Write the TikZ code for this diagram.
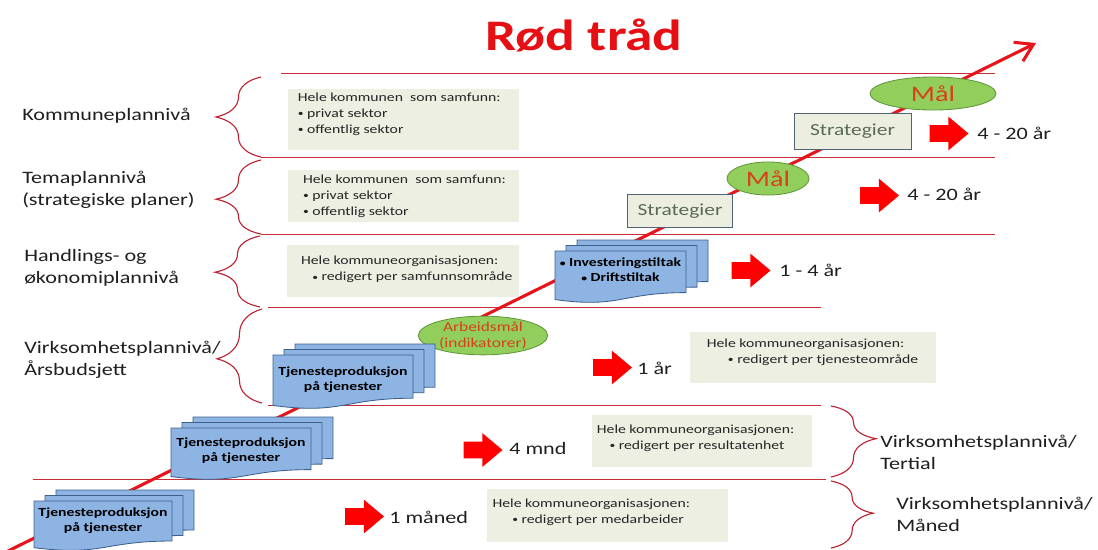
\documentclass[tikz,border=0pt]{standalone}
\usepackage{fontspec}
\setmainfont{Carlito}[FakeStretch=1.27]
\usetikzlibrary{positioning,shapes.geometric,shapes.arrows,decorations.pathreplacing,arrows.meta}

\definecolor{rulered}{RGB}{200,45,55}
\definecolor{bracered}{RGB}{185,35,50}
\definecolor{threadred}{RGB}{232,20,27}
\definecolor{titlered}{RGB}{230,15,20}
\definecolor{goalgreen}{RGB}{146,206,92}
\definecolor{goalborder}{RGB}{98,150,60}
\definecolor{goaltext}{RGB}{215,65,25}
\definecolor{stratfill}{RGB}{236,239,224}
\definecolor{stratborder}{RGB}{80,100,120}
\definecolor{strattext}{RGB}{90,105,85}
\definecolor{infofill}{RGB}{236,239,225}
\definecolor{sheetfill}{RGB}{142,180,227}
\definecolor{sheetborder}{RGB}{60,95,140}

% one sheet of a document stack: top left x, y, width, height
\newcommand{\docsheet}[4]{%
  \draw[sheet] (#1,#2) -- (#1+#3,#2) -- (#1+#3,#2+0.8*#4)
    .. controls (#1+0.5*#3,#2+0.8*#4) and (#1+0.5*#3,#2+1.107*#4) .. (#1,#2+0.934*#4) -- cycle;}
\newcommand{\bul}{{\fontsize{6.5}{6.5}\selectfont\raisebox{0.4pt}{•}}}

\begin{document}
\begin{tikzpicture}[x=0.025cm,y=-0.025cm]

\tikzstyle{hline}=[rulered,line width=0.7pt]
\tikzstyle{curly}=[bracered,line width=0.8pt,decorate]
\tikzstyle{lvl}=[anchor=west,align=left,inner sep=0pt,font=\fontsize{12.4}{15.5}\selectfont,text=black!88]
\tikzstyle{period}=[anchor=west,inner sep=0pt,font=\fontsize{12.4}{15}\selectfont,text=black!88]
\tikzstyle{infobox}=[rectangle,fill=infofill,inner sep=0pt]
\tikzstyle{info}=[anchor=west,align=left,inner sep=0pt,font=\fontsize{8.8}{11.3}\selectfont,text=black!85]
\tikzstyle{goal}=[ellipse,fill=goalgreen,draw=goalborder,line width=0.6pt,text=goaltext,inner sep=-6pt]
\tikzstyle{strat}=[rectangle,fill=stratfill,draw=stratborder,line width=0.7pt,text=strattext,font=\fontsize{12}{14}\selectfont]
\tikzstyle{sheet}=[fill=sheetfill,draw=sheetborder,line width=0.6pt]
\tikzstyle{sheettext}=[align=center,inner sep=0pt,font=\fontsize{8.8}{10.7}\selectfont\bfseries]
\tikzstyle{bigarrow}=[single arrow,fill=red,inner xsep=0pt,inner ysep=5.8pt,minimum height=27.7pt,minimum width=23.5pt,single arrow head extend=6pt,single arrow tip angle=80]

\useasboundingbox (0,0) rectangle (1098,549);

\node[text=titlered,font=\fontsize{31}{36}\selectfont\bfseries] (title) at (584,35) {Rød tråd};

% level lines
\draw[hline] (281,73) -- (995,73);
\draw[hline] (261,157) -- (995,157);
\draw[hline] (261,234) -- (995,234);
\draw[hline] (268,307) -- (821,307);
\draw[hline] (268,405) -- (821,405);
\draw[hline] (33,479) -- (826,479);

% braces
\draw[curly,decoration={brace,amplitude=32pt,aspect=0.5}] (261,157) -- (261,77);
\draw[curly,decoration={brace,amplitude=32pt,aspect=0.47}] (261,234) -- (261,160);
\draw[curly,decoration={brace,amplitude=32pt,aspect=0.49}] (260,307) -- (260,236);
\draw[curly,decoration={brace,amplitude=32pt,aspect=0.47}] (262,403) -- (262,309);
\draw[curly,decoration={brace,amplitude=32pt,aspect=0.46}] (831,406) -- (831,477);
\draw[curly,decoration={brace,amplitude=30pt,aspect=0.48}] (831,481) -- (831,548);

% the red thread
\coordinate (tstart) at (6,552);
\coordinate (tend) at (1036,43);
\draw[threadred,line width=2.2pt,-{Straight Barb[length=12pt,width=15pt]}] (tstart) -- (tend);

\node[lvl] (kommune)  at (22,116) {Kommuneplannivå};
\node[lvl] (tema)     at (22,190) {Temaplannivå\\(strategiske planer)};
\node[lvl] (handling) at (24,268) {Handlings- og\\økonomiplannivå};
\node[lvl] (virk)     at (24,360) {Virksomhetsplannivå/\\Årsbudsjett};
\node[lvl] (tertial)  at (880,452) {Virksomhetsplannivå/\\Tertial};
\node[lvl] (maned)    at (896,514) {Virksomhetsplannivå/\\Måned};

\node[infobox,minimum width=164.3pt,minimum height=43.4pt] (box1) at (403.5,119.5) {};
\node[infobox,minimum width=164.3pt,minimum height=37pt]   (box2) at (403.5,196) {};
\node[infobox,minimum width=165pt,minimum height=37pt]     (box3) at (403,271) {};
\node[infobox,minimum width=175pt,minimum height=36.3pt]   (box4) at (813,357.5) {};
\node[infobox,minimum width=156.5pt,minimum height=37pt]   (box5) at (702,441) {};
\node[infobox,minimum width=171.4pt,minimum height=37.7pt] (box6) at (607.5,515.5) {};

\node[info,right=7pt of box1.west,yshift=4pt] (info1) {Hele kommunen~ som samfunn:\\\bul{} privat sektor\\\bul{} offentlig sektor};
\node[info,right=10.7pt of box2.west] (info2) {Hele kommunen~ som samfunn:\\\bul{} privat sektor\\\bul{} offentlig sektor};
\node[info,right=10pt of box3.west,yshift=1pt] (info3) {Hele kommuneorganisasjonen:\\\hspace*{8pt}\bul{} redigert per samfunnsområde};
\node[info,right=12pt of box4.west,yshift=4pt] (info4) {Hele kommuneorganisasjonen:\\\hspace*{15pt}\bul{} redigert per tjenesteområde};
\node[info,right=3.5pt of box5.west,yshift=2pt] (info5) {Hele kommuneorganisasjonen:\\\hspace*{9pt}\bul{} redigert per resultatenhet};
\node[info,right=4pt of box6.west,yshift=2.5pt] (info6) {Hele kommuneorganisasjonen:\\\hspace*{14pt}\bul{} redigert per medarbeider};

\node[goal,minimum width=89.6pt,minimum height=23.5pt,font=\fontsize{15.8}{18}\selectfont] (mal1) at (933,93.5) {Mål};
\node[strat,minimum width=83.2pt,minimum height=25.6pt] (strat1) at (852.5,131) {Strategier};
\node[goal,minimum width=58.3pt,minimum height=23.5pt,font=\fontsize{15.8}{18}\selectfont] (mal2) at (768,178.5) {Mål};
\node[strat,minimum width=74pt,minimum height=22.8pt] (strat2) at (680,211) {Strategier};
\node[goal,minimum width=92pt,minimum height=27.5pt,align=center,font=\fontsize{9.7}{11}\selectfont] (arbeid) at (483,335.5) {Arbeidsmål\\(indikatorer)};

% document stacks
\foreach \d in {22,11,0} \docsheet{555+\d}{251-\d/2}{131}{52};
\node[sheettext] (invest) at (620.5,270) {\bul{} Investeringstiltak\\\bul{} Driftstiltak};
\foreach \d in {22,11,0} \docsheet{273+\d}{355-\d/2}{140}{54};
\node[sheettext] (tjen1) at (343,379.5) {Tjenesteproduksjon\\på tjenester};
\foreach \d in {22,11,0} \docsheet{171+\d}{428-\d/2}{140}{52};
\node[sheettext] (tjen2) at (241,450.5) {Tjenesteproduksjon\\på tjenester};
\foreach \d in {22,11,0} \docsheet{34+\d}{501-\d/2}{138}{50};
\node[sheettext] (tjen3) at (103,520.5) {Tjenesteproduksjon\\på tjenester};

% time spans
\node[bigarrow] (arr1) at (944,133.5) {};
\node[period] (span1) at (977,133) {4 - 20 år};
\node[bigarrow] (arr2) at (874.5,195.5) {};
\node[period] (span2) at (907,194) {4 - 20 år};
\node[bigarrow] (arr3) at (746,270.5) {};
\node[period] (span3) at (779,270) {1 - 4 år};
\node[bigarrow] (arr4) at (607.5,367.5) {};
\node[period] (span4) at (637,368) {1 år};
\node[bigarrow] (arr5) at (478,450) {};
\node[period] (span5) at (509,448) {4 mnd};
\node[bigarrow] (arr6) at (359.5,516.5) {};
\node[period] (span6) at (389,517) {1 måned};

\end{tikzpicture}
\end{document}
